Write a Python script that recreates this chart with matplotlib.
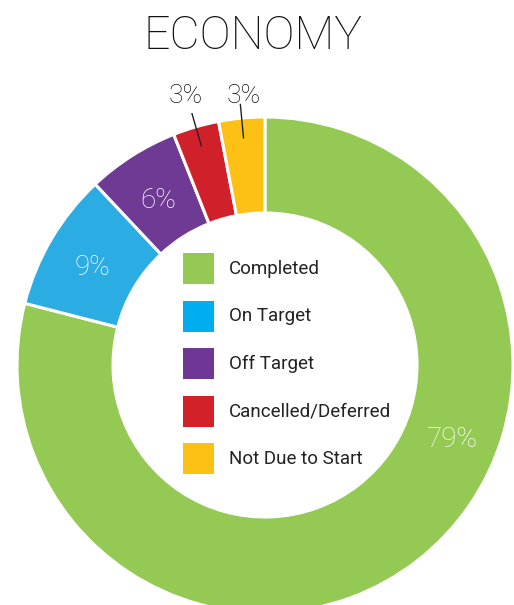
import matplotlib
matplotlib.use("Agg")
import numpy as np
import matplotlib.pyplot as plt
from matplotlib.patches import Rectangle

categories = ["Completed", "On Target", "Off Target", "Cancelled/Deferred", "Not Due to Start"]
shares = [79, 9, 6, 3, 3]
labels = ["79%", "9%", "6%", "3%", "3%"]
wedge_colors = ["#94C954", "#2BACE2", "#6E3A93", "#D0202A", "#FDC015"]
legend_colors = ["#94C954", "#00AEEF", "#6E3795", "#D3212A", "#FDC015"]

W, H = 514, 605
fig = plt.figure(figsize=(W / 100, H / 100), dpi=100)
ax = fig.add_axes([0, 0, 1, 1])

cx, cy = 265, H - 365
R = 248
ring = 0.387

wedges, _ = ax.pie(
    shares,
    colors=wedge_colors,
    startangle=90,
    counterclock=False,
    radius=R,
    center=(cx, cy),
    wedgeprops=dict(width=R * ring, edgecolor="white", linewidth=2.2),
)
ax.set_xlim(0, W)
ax.set_ylim(0, H)
ax.set_aspect("equal")
ax.axis("off")

font = "Roboto"

# percentage labels: white inside big wedges, black with leader lines outside small ones
for i, (w, lab) in enumerate(zip(wedges, labels)):
    mid = np.deg2rad((w.theta1 + w.theta2) / 2)
    if i == 0:
        mid = np.deg2rad(-20.5)
    if shares[i] >= 5:
        r = R * (1 - ring / 2)
        ax.text(cx + r * np.cos(mid), cy + r * np.sin(mid) - 4, lab,
                color="white", fontsize=20, ha="center", va="center",
                family=font, fontweight="light")
    else:
        r0, r1 = R * 0.92, R * 1.055
        x1, y1 = cx + r1 * np.cos(mid), cy + r1 * np.sin(mid)
        ax.plot([cx + r0 * np.cos(mid), x1], [cy + r0 * np.sin(mid), y1],
                color="#222222", lw=1.0)
        dx = -6 if i == 3 else 3  # spread the two small labels apart
        ax.text(x1 + dx, H - 103, lab, color="#111111", fontsize=19,
                ha="center", va="baseline", family=font, fontweight="light")

# legend inside the hole
for i, (cat, col) in enumerate(zip(categories, legend_colors)):
    top = 253 + 47.5 * i
    ax.add_patch(Rectangle((183, H - top - 31), 31, 31, facecolor=col, edgecolor="none"))
    ax.text(229, H - top - 15.5, cat, fontsize=13.5, family=font,
            color="#222222", ha="left", va="center")

fig.text(253 / W, 1 - 36 / H, "ECONOMY", ha="center", va="center",
         fontsize=33.5, family=font, fontweight="light", color="#111111")

fig.savefig("out.png", dpi=100)
